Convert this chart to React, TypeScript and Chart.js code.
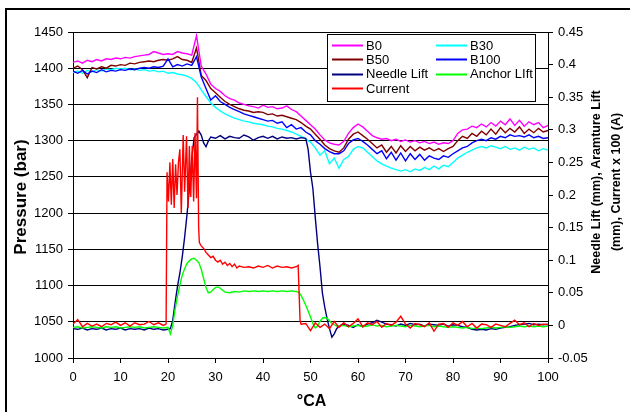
import React, { useEffect, useRef } from 'react';
import { Chart, registerables } from 'chart.js';

Chart.register(...registerables);

const FONT = '"Liberation Sans", Arial, Helvetica, sans-serif';

// ---------- Data ----------
const pressureCA = [
  0, 1, 2, 3, 4, 5, 6, 7, 8, 9,
  10, 11, 12, 13, 14, 15, 16, 17, 18, 19,
  20, 21, 22, 23, 24, 25, 26, 27, 28, 29,
  30, 31, 32, 33, 34, 35, 36, 37, 38, 39,
  40, 41, 42, 43, 44, 45, 46, 47, 48, 49,
  50, 51, 52, 53, 54, 55, 56, 57, 58, 59,
  60, 61, 62, 63, 64, 65, 66, 67, 68, 69,
  70, 71, 72, 73, 74, 75, 76, 77, 78, 79,
  80, 81, 82, 83, 84, 85, 86, 87, 88, 89,
  90, 91, 92, 93, 94, 95, 96, 97, 98, 99,
  100,
];

const b0 = [
  1408, 1410, 1407, 1411, 1409, 1412, 1410, 1413, 1412, 1414,
  1413, 1415, 1414, 1416, 1417, 1418, 1419, 1423, 1421, 1419,
  1420, 1419, 1423, 1421, 1420, 1418, 1445, 1403, 1392, 1378,
  1372, 1368, 1362, 1358, 1356, 1352, 1350, 1348, 1347, 1345,
  1349, 1346, 1347, 1344, 1345, 1348, 1343, 1340, 1334, 1328,
  1322, 1316, 1308, 1301, 1297, 1295, 1294, 1299, 1310, 1318,
  1323, 1319, 1313, 1307, 1304, 1302, 1303, 1300, 1302, 1299,
  1301, 1298, 1300, 1297, 1299, 1296, 1298, 1295, 1297, 1296,
  1300, 1310, 1315, 1316, 1320, 1318, 1323, 1319, 1325, 1320,
  1327, 1322, 1330, 1321, 1328, 1320, 1326, 1322, 1325, 1318,
  1321,
];

const b30 = [
  1394, 1396, 1393, 1397, 1395, 1398, 1396, 1399, 1398, 1400,
  1399, 1400, 1398, 1399, 1397, 1398, 1396, 1397, 1395, 1396,
  1393, 1394, 1392, 1391, 1389, 1386, 1380, 1370, 1361, 1352,
  1346, 1341, 1337, 1334, 1331, 1329, 1327, 1326, 1324, 1323,
  1322, 1320, 1319, 1317, 1316, 1314, 1312, 1309, 1306, 1302,
  1298, 1290, 1280, 1286, 1268, 1276, 1262, 1274, 1278, 1288,
  1292, 1290, 1284, 1278, 1272, 1268, 1265, 1262, 1260, 1258,
  1260, 1257, 1261, 1259, 1263, 1260, 1265, 1261, 1266, 1264,
  1270, 1276, 1280, 1284, 1287, 1290, 1292, 1290, 1293, 1291,
  1289, 1292, 1288, 1290, 1287, 1291, 1288, 1290, 1286, 1289,
  1287,
];

const b50 = [
  1400, 1403, 1398, 1387, 1401, 1399, 1402, 1400, 1404, 1403,
  1405, 1404, 1407, 1406, 1408, 1409, 1410, 1409, 1411, 1412,
  1411, 1413, 1416, 1412, 1411, 1408, 1428, 1390, 1383, 1372,
  1366, 1360, 1354, 1350, 1347, 1344, 1342, 1341, 1339, 1340,
  1339, 1336, 1337, 1334, 1335, 1333, 1331, 1329, 1325, 1320,
  1316, 1309, 1302, 1294, 1289, 1286, 1284, 1290, 1302, 1309,
  1312, 1307, 1302, 1296, 1290, 1294, 1284, 1292, 1283, 1293,
  1285, 1292, 1286, 1291, 1287, 1290, 1286, 1289, 1285, 1289,
  1292, 1300, 1306, 1303, 1310, 1306, 1313, 1308, 1316, 1309,
  1318, 1311, 1317, 1312, 1319, 1310, 1316, 1311, 1317, 1312,
  1314,
];

const b100 = [
  1396, 1393, 1397, 1392, 1396, 1394, 1398, 1395, 1397, 1396,
  1398, 1397, 1399, 1398, 1400, 1401, 1400, 1402, 1401, 1403,
  1413, 1402, 1405, 1403, 1406, 1404, 1416, 1388, 1372, 1356,
  1362, 1354, 1350, 1346, 1343, 1340, 1337, 1335, 1333, 1331,
  1329, 1327, 1328, 1324, 1326, 1318, 1322, 1316, 1318, 1312,
  1308, 1300, 1295, 1289, 1285, 1282, 1282, 1286, 1296, 1301,
  1303, 1299, 1294, 1288, 1282, 1286, 1275, 1284, 1273, 1283,
  1272, 1282, 1274, 1281, 1273, 1279, 1276, 1274, 1279, 1277,
  1282, 1286, 1290, 1292, 1297, 1300, 1302, 1300, 1304, 1302,
  1306, 1304, 1308, 1306, 1307, 1305, 1308, 1304, 1306, 1303,
  1304,
];

const needleCA = [
  0, 1, 2, 3, 4, 5, 6, 7, 8, 9, 10, 11, 12, 13, 14, 15, 16, 17, 18, 19, 20,
  20.5, 21, 21.5, 22, 22.5, 23, 23.5, 24, 24.5, 25, 25.5, 26, 26.5, 27, 27.5, 28, 28.5, 29,
  30, 31, 32, 33, 34, 35, 36, 37, 38, 39, 40, 41, 42, 43, 44, 45, 46, 47, 48, 49,
  49.5, 50, 50.5, 51, 51.5, 52, 52.5, 53, 53.5, 54, 54.5, 55, 55.5, 56,
  57, 58, 59, 60, 61, 62, 63, 64, 65, 66, 67, 68, 69, 70, 71, 72, 73, 74, 75, 76, 77, 78,
  79, 80, 81, 82, 83, 84, 85, 86, 87, 88, 89, 90, 91, 92, 93, 94, 95, 96, 97, 98, 99, 100,
];
const needleLift = [
  -0.005, -0.006, -0.004, -0.007, -0.005, -0.006, -0.004, -0.007, -0.005, -0.006, -0.004,
  -0.007, -0.005, -0.006, -0.005, -0.007, -0.004, -0.006, -0.005, -0.007, -0.006,
  -0.005, 0.008, 0.035, 0.06, 0.08, 0.105, 0.135, 0.17, 0.21, 0.255, 0.288, 0.293, 0.298, 0.292, 0.28, 0.274, 0.283, 0.289,
  0.287, 0.291, 0.286, 0.29, 0.288, 0.287, 0.292, 0.289, 0.284, 0.288, 0.29, 0.287, 0.29, 0.286, 0.289, 0.287, 0.288, 0.286, 0.288, 0.287,
  0.27, 0.235, 0.21, 0.166, 0.125, 0.09, 0.05, 0.028, 0.01, -0.005, -0.018, -0.013, -0.005, -0.001,
  0.002, 0.0, -0.003, 0.001, -0.002, 0.002, 0.004, 0.008, 0.005, 0.002, 0.001, -0.001, 0.002, 0.0, 0.003, 0.001, 0.002, -0.001, 0.002, 0.001, 0.0, 0.002,
  -0.001, 0.001, 0.0, -0.002, -0.003, -0.006, -0.007, -0.006, -0.007, -0.005, -0.006, -0.004, -0.003, -0.002, 0.0, 0.001, 0.002, 0.003, 0.001, 0.002, 0.001, 0.002,
];

const anchorCA = [
  0, 1, 2, 3, 4, 5, 6, 7, 8, 9, 10, 11, 12, 13, 14, 15, 16, 17, 18, 19, 20,
  20.5, 21, 21.5, 22, 22.5, 23, 23.5, 24, 24.5, 25, 25.5, 26, 26.5, 27, 27.5, 28, 28.5, 29, 29.5, 30, 30.5, 31, 31.5,
  32, 33, 34, 35, 36, 37, 38, 39, 40, 41, 42, 43, 44, 45, 46, 47,
  47.5, 48, 48.5, 49, 49.5, 50, 50.5, 51, 51.5, 52, 52.5, 53, 53.5, 54, 54.5, 55, 55.5,
  56, 57, 58, 59, 60, 61, 62, 63, 64, 65, 66, 67, 68, 69, 70, 71, 72, 73, 74, 75, 76, 77, 78,
  79, 80, 81, 82, 83, 84, 85, 86, 87, 88, 89, 90, 91, 92, 93, 94, 95, 96, 97, 98, 99, 100,
];
const anchorLift = [
  -0.003, -0.002, -0.004, -0.003, -0.002, -0.003, -0.004, -0.002, -0.003, -0.002, -0.004,
  -0.003, -0.002, -0.003, -0.002, -0.004, -0.003, -0.002, -0.003, -0.004, -0.003,
  -0.013, 0.0, 0.025, 0.045, 0.062, 0.077, 0.087, 0.095, 0.099, 0.102, 0.103, 0.1, 0.096, 0.086, 0.072, 0.058, 0.05, 0.051, 0.055, 0.058, 0.059, 0.057, 0.054,
  0.051, 0.05, 0.052, 0.051, 0.053, 0.052, 0.053, 0.052, 0.053, 0.052, 0.053, 0.052, 0.053, 0.052, 0.053, 0.052,
  0.051, 0.046, 0.039, 0.031, 0.022, 0.013, 0.003, -0.004, -0.001, 0.006, 0.011, 0.012, 0.011, 0.007, 0.003, 0.001, -0.001,
  -0.001, 0.0, -0.002, -0.001, 0.0, -0.002, -0.001, 0.001, -0.001, 0.0, -0.002, -0.001, 0.0, -0.001, -0.002, 0.0, -0.001, -0.002, -0.001, 0.0, -0.002, -0.001, -0.002,
  -0.003, -0.002, -0.003, -0.004, -0.003, -0.005, -0.004, -0.005, -0.004, -0.003, -0.004, -0.003, -0.002, -0.003, -0.002, -0.001, -0.002, -0.001, -0.002, -0.001, -0.002, -0.001,
];

const currentCA = [
  0, 1, 2, 3, 4, 5, 6, 7, 8, 9, 10, 11, 12, 13, 14, 15, 16, 17, 18, 19,
  19.6, 19.8, 20.1, 20.4, 20.7, 21.0, 21.3, 21.6, 21.9, 22.2, 22.5, 22.8, 23.2, 23.5, 23.9, 24.2, 24.5, 24.8, 25.1, 25.4, 25.7, 26.0, 26.2, 26.45, 26.6,
  27, 27.5, 28, 28.5, 29, 29.5, 30, 30.5, 31, 31.5, 32, 32.5, 33, 33.5, 34, 34.5, 35,
  36, 37, 38, 39, 40, 41, 42, 43, 44, 45, 46, 47,
  47.4, 47.8,
  48, 49, 50, 51, 52, 53, 54, 55, 56, 57, 58, 59, 60, 61, 62, 63, 64, 65, 66, 67, 68, 69, 70, 71, 72, 73, 74,
  75, 76, 77, 78, 79, 80, 81, 82, 83, 84, 85, 86, 87, 88, 89, 90, 91, 92, 93, 94, 95, 96, 97, 98, 99, 100,
];
const current = [
  0.002, 0.009, -0.002, 0.003, -0.001, 0.002, -0.002, 0.003, 0.001, 0.005, 0.0, 0.004, -0.001, 0.004, 0.001, 0.002, 0.006, 0.001, 0.004, 0.0,
  0.002, 0.235, 0.19, 0.25, 0.185, 0.255, 0.18, 0.247, 0.2, 0.25, 0.27, 0.172, 0.292, 0.205, 0.29, 0.18, 0.275, 0.197, 0.275, 0.19, 0.295, 0.195, 0.35, 0.15, 0.127,
  0.122, 0.118, 0.112, 0.108, 0.104, 0.106, 0.1, 0.097, 0.1, 0.094, 0.097, 0.092, 0.095, 0.09, 0.094, 0.088, 0.091,
  0.089, 0.09, 0.088, 0.091, 0.089, 0.092, 0.088, 0.091, 0.089, 0.09, 0.088, 0.09,
  0.092, 0.008,
  0.002, 0.003, -0.008, 0.004, -0.003, 0.002, -0.005, 0.006, -0.003, 0.004, -0.002, 0.003, 0.01, -0.002, 0.004, 0.001, 0.006, -0.003, 0.003, 0.0, 0.005, 0.014, 0.002, -0.004, 0.003, 0.001, -0.002,
  0.004, -0.009, 0.002, 0.003, -0.003, 0.004, 0.0, 0.006, -0.002, 0.003, -0.004, 0.002, 0.001, -0.003, 0.002, 0.0, -0.002, 0.003, 0.008, 0.001, 0.004, -0.002, 0.003, 0.0, 0.002, 0.001,
];

const legendItems = [
  { label: 'B0', color: '#FF00FF' },
  { label: 'B30', color: '#00FFFF' },
  { label: 'B50', color: '#800000' },
  { label: 'B100', color: '#0000FF' },
  { label: 'Needle Lift', color: '#000080' },
  { label: 'Anchor LIft', color: '#00FF00' },
  { label: 'Current', color: '#FF0000' },
];

const pts = (xs: number[], ys: number[]) => {
  const n = Math.min(xs.length, ys.length);
  const out: { x: number; y: number }[] = [];
  for (let i = 0; i < n; i++) out.push({ x: xs[i], y: ys[i] });
  return out;
};

const decorPlugin = {
  id: 'decor',
  afterDraw(chart: any) {
    const { ctx, chartArea } = chart;
    const cy = (chartArea.top + chartArea.bottom) / 2;
    ctx.save();
    ctx.fillStyle = '#000';
    ctx.textAlign = 'center';
    ctx.textBaseline = 'middle';

    // Left axis title
    ctx.save();
    ctx.font = `bold 17px ${FONT}`;
    ctx.translate(21, cy + 2);
    ctx.rotate(-Math.PI / 2);
    ctx.fillText('Pressure (bar)', 0, 0);
    ctx.restore();

    // Right axis title (two lines, reading bottom to top)
    ctx.save();
    ctx.font = `bold 12.5px ${FONT}`;
    ctx.translate(chartArea.right + 49, cy - 13);
    ctx.rotate(-Math.PI / 2);
    ctx.fillText('Needle Lift (mm), Aramture Lift', 0, 0);
    ctx.fillText('(mm), Current x 100 (A)', 0, 20);
    ctx.restore();

    // X axis title
    ctx.font = `bold 16px ${FONT}`;
    ctx.fillText('°CA', (chartArea.left + chartArea.right) / 2 + 1, 402);

    // Legend
    const bx = 327, by = 34, bw = 208, bh = 67;
    ctx.fillStyle = '#fff';
    ctx.fillRect(bx, by, bw, bh);
    ctx.strokeStyle = '#000';
    ctx.lineWidth = 1;
    ctx.strokeRect(bx + 0.5, by + 0.5, bw, bh);
    ctx.font = `13px ${FONT}`;
    ctx.textAlign = 'left';
    legendItems.forEach((it, i) => {
      const col = i % 2;
      const row = Math.floor(i / 2);
      const lx = col === 0 ? 332 : 436;
      const ly = 45 + row * 14.4;
      ctx.strokeStyle = it.color;
      ctx.lineWidth = 2;
      ctx.beginPath();
      ctx.moveTo(lx, Math.round(ly) + 0.5);
      ctx.lineTo(lx + 31, Math.round(ly) + 0.5);
      ctx.stroke();
      ctx.fillStyle = '#000';
      ctx.fillText(it.label, lx + 34, ly + 1);
    });
    ctx.restore();
  },
};

export default function App() {
  const ref = useRef<HTMLCanvasElement>(null);

  useEffect(() => {
    const canvas = ref.current;
    if (!canvas) return;
    const tickFont = { family: FONT, size: 13 };
    const lw = 1.4;
    const chart = new Chart(canvas, {
      type: 'line',
      data: {
        datasets: [
          { label: 'B0', data: pts(pressureCA, b0), borderColor: '#FF00FF', yAxisID: 'y', order: 6 },
          { label: 'B30', data: pts(pressureCA, b30), borderColor: '#00FFFF', yAxisID: 'y', order: 5 },
          { label: 'B50', data: pts(pressureCA, b50), borderColor: '#800000', yAxisID: 'y', order: 4 },
          { label: 'B100', data: pts(pressureCA, b100), borderColor: '#0000FF', yAxisID: 'y', order: 3 },
          { label: 'Needle Lift', data: pts(needleCA, needleLift), borderColor: '#000080', yAxisID: 'y1', order: 2 },
          { label: 'Anchor LIft', data: pts(anchorCA, anchorLift), borderColor: '#00FF00', yAxisID: 'y1', order: 1 },
          { label: 'Current', data: pts(currentCA, current), borderColor: '#FF0000', yAxisID: 'y1', order: 0 },
        ].map((d) => ({ ...d, borderWidth: lw, pointRadius: 0, fill: false, tension: 0 })),
      },
      options: {
        animation: false,
        responsive: false,
        maintainAspectRatio: false,
        devicePixelRatio: 1,
        layout: { padding: { top: 32, left: 0, right: 0, bottom: 0 } },
        plugins: { legend: { display: false }, tooltip: { enabled: false }, title: { display: false } },
        scales: {
          x: {
            type: 'linear',
            min: 0,
            max: 100,
            ticks: {
              stepSize: 10,
              font: tickFont,
              color: '#000',
              padding: 7,
              maxRotation: 0,
              callback: (v: any) => String(Math.round(Number(v))),
            },
            grid: { drawOnChartArea: false, tickLength: 5, color: '#000' },
            border: { color: '#000', width: 1 },
            afterFit: (s: any) => { s.height = 54; },
          },
          y: {
            position: 'left',
            min: 1000,
            max: 1450,
            ticks: {
              stepSize: 50,
              font: tickFont,
              color: '#000',
              padding: 5,
              callback: (v: any) => String(Math.round(Number(v))),
            },
            grid: { color: '#000', tickLength: 5 },
            border: { color: '#000', width: 1 },
            afterFit: (s: any) => { s.width = 73; },
          },
          y1: {
            position: 'right',
            min: -0.05,
            max: 0.45,
            ticks: {
              stepSize: 0.05,
              font: tickFont,
              color: '#000',
              padding: 5,
              callback: (v: any) => String(Math.round(Number(v) * 100) / 100),
            },
            grid: { drawOnChartArea: false, tickLength: 5, color: '#000' },
            border: { color: '#000', width: 1 },
            afterFit: (s: any) => { s.width = 82; },
          },
        },
      },
      plugins: [decorPlugin],
    } as any);
    return () => chart.destroy();
  }, []);

  return (
    <div
      style={{
        position: 'absolute',
        left: 0,
        top: 0,
        width: 630,
        height: 412,
        overflow: 'hidden',
        background: '#fff',
      }}
    >
      <canvas ref={ref} width={630} height={412} style={{ display: 'block', width: 630, height: 412 }} />
      <div
        style={{
          position: 'absolute',
          left: 5,
          top: 8,
          width: 640,
          height: 420,
          border: '2px solid #000',
          boxSizing: 'border-box',
          pointerEvents: 'none',
        }}
      />
    </div>
  );
}
